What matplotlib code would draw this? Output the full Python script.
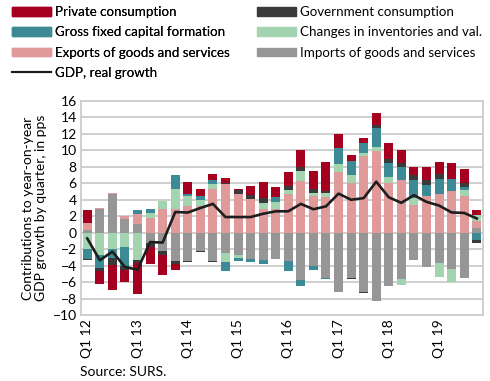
import numpy as np
import matplotlib
matplotlib.use("Agg")
import matplotlib.pyplot as plt
from matplotlib.patches import Patch
from matplotlib.lines import Line2D

plt.rcParams['font.family'] = ['Lato', 'DejaVu Sans']

quarters = [f"Q{q} {y}" for y in range(12, 20) for q in range(1, 5)]
tick_labels = ["Q1 12", "Q1 13", "Q1 14", "Q1 15", "Q1 16", "Q1 17", "Q1 18", "Q1 19"]

private = [1.62, -1.54, -3.1, -1.5, -3.7, -2.1, -2.43, -0.73,
           1.5, 0.85, 0.69, 0.57, 0.2, 1.1, 2.02, 1.29,
           1.74, 2.1, 2.11, 3.57, 1.62, 0.73, 0.57, 1.5,
           1.91, 1.5, 1.02, 1.62, 1.42, 1.99, 1.71, 0.65]
government = [-0.2, -0.4, -0.8, -0.5, -0.4, -0.55, -0.4, -0.4,
              -0.12, -0.08, -0.08, 0.12, 0.4, 0.49, 0.53, 0.0,
              0.49, 0.53, 0.49, 0.2, 0.0, -0.12, -0.12, 0.32,
              0.53, 0.53, 0.61, 0.61, 0.61, 0.0, 0.53, -0.4]
gfcf = [-1.22, -1.58, -1.1, -2.35, 0.5, 0.45, 0.0, 1.7,
        0.2, 0.41, 0.49, -1.14, -0.32, -0.4, -0.57, 0.53,
        -1.26, -0.73, -0.53, -0.08, 2.03, 1.7, 1.22, 2.31,
        1.7, 1.62, 2.15, 1.3, 1.87, 1.42, 0.4, -0.9]
inventories = [-1.95, -2.68, -2.0, -1.68, -3.3, 0.61, 0.93, 2.35,
               1.26, 0.81, 0.69, -1.05, -0.32, 0.0, 0.81, 0.93,
               0.4, 1.22, 0.4, 0.45, 0.93, 0.97, 0.4, 0.53,
               0.69, -0.73, 0.89, 0.0, -1.74, -1.54, 0.69, 0.75]
exports = [0.81, 0.1, 0.12, 0.4, 1.17, 1.8, 2.92, 2.92,
           3.2, 3.2, 5.27, 5.92, 4.74, 4.05, 2.82, 2.82,
           4.74, 6.24, 4.46, 4.38, 7.38, 6.08, 9.33, 9.89,
           6.08, 6.37, 3.33, 4.46, 4.7, 5.07, 4.46, 0.8]
imports = [0.36, 2.84, 4.74, 1.64, 1.11, -1.2, -2.27, -3.45,
           -3.45, -2.27, -3.49, -2.51, -2.76, -3.16, -3.28, -3.16,
           -3.45, -5.8, -4.06, -5.52, -7.22, -5.52, -7.22, -8.31,
           -6.53, -5.68, -3.33, -4.18, -3.65, -4.46, -5.47, 0.6]
gdp = [-0.7, -3.35, -2.3, -4.17, -4.5, -1.14, -1.2, 2.51,
       2.45, 3.0, 3.5, 1.9, 1.9, 1.9, 2.3, 2.6,
       2.6, 3.5, 2.85, 3.2, 4.75, 4.0, 4.2, 6.2,
       4.3, 3.63, 4.56, 3.75, 3.3, 2.46, 2.4, 1.73]

names = ["Private consumption", "Government consumption",
         "Gross fixed capital formation", "Changes in inventories and val.",
         "Exports of goods and services", "Imports of goods and services"]
colors = {"Private consumption": "#a5001f",
          "Government consumption": "#3a3a3a",
          "Gross fixed capital formation": "#3b8a96",
          "Changes in inventories and val.": "#a2d4b0",
          "Exports of goods and services": "#e09a9a",
          "Imports of goods and services": "#969696"}
series = {"Private consumption": private,
          "Government consumption": government,
          "Gross fixed capital formation": gfcf,
          "Changes in inventories and val.": inventories,
          "Exports of goods and services": exports,
          "Imports of goods and services": imports}

fig = plt.figure(figsize=(4.9, 3.81), dpi=100)
ax = fig.add_axes([81/490, 1-315/381, (483-81)/490, (315-101)/381])

x = np.arange(len(quarters))
pos_bottom = np.zeros(len(x))
neg_bottom = np.zeros(len(x))
stack_order = names[::-1]  # imports nearest zero
for name in stack_order:
    v = np.array(series[name])
    p = np.where(v > 0, v, 0)
    n = np.where(v < 0, v, 0)
    ax.bar(x, p, bottom=pos_bottom, width=0.72, color=colors[name], zorder=2)
    ax.bar(x, n, bottom=neg_bottom, width=0.72, color=colors[name], zorder=2)
    pos_bottom += p
    neg_bottom += n

ax.plot(x, gdp, color="#1e1e1e", lw=1.9, zorder=3)

ax.set_xlim(-0.5, len(x) - 0.5)
ax.set_ylim(-10, 16)
ax.set_yticks(np.arange(-10, 17, 2))
ax.yaxis.grid(True, color="#cccccc", lw=1.3, zorder=0)
ax.set_axisbelow(True)
ax.set_xticks(x[::4])
ax.set_xticklabels(tick_labels, rotation=90, fontsize=10)
ax.tick_params(axis='both', length=0, labelsize=10, pad=3)
for s in ax.spines.values():
    s.set_color("#cccccc")
    s.set_linewidth(1.3)
ax.set_ylabel("Contributions to year-on-year\nGDP growth by quarter, in pps",
              fontsize=10, labelpad=4, linespacing=1.1)

handles_left = [
    Patch(color=colors[names[0]], label=names[0]),
    Patch(color=colors[names[2]], label=names[2]),
    Patch(color=colors[names[4]], label=names[4]),
    Line2D([], [], color="#1e1e1e", lw=1.5, label="GDP, real growth"),
]
handles_right = [
    Patch(color=colors[names[1]], label=names[1]),
    Patch(color=colors[names[3]], label=names[3]),
    Patch(color=colors[names[5]], label=names[5]),
]
leg_kw = dict(loc="upper left", frameon=False, fontsize=9.6, handlelength=2.9,
              handleheight=0.6, handletextpad=0.3, labelspacing=0.62, borderaxespad=0.2)
leg1 = fig.legend(handles=handles_left, bbox_to_anchor=(0.008, 1.005), **leg_kw)
fig.add_artist(leg1)
fig.legend(handles=handles_right, bbox_to_anchor=(0.508, 1.005), **leg_kw)

fig.text(80/490, 1-372/381, "Source: SURS.", fontsize=10, va="center", ha="left")

fig.savefig("out.png", dpi=100)
